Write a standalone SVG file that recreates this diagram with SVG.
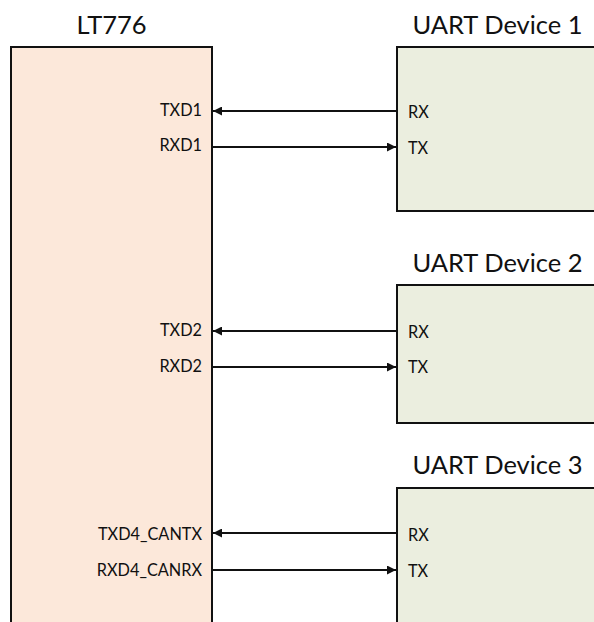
<svg xmlns="http://www.w3.org/2000/svg" width="594" height="622" viewBox="0 0 594 622">
<style>
.title{font-family:Lato,"Open Sans",sans-serif;font-size:25.5px;fill:#111;text-anchor:middle}
.pin{font-family:Lato,"Open Sans",sans-serif;font-size:16.3px;fill:#111}
.r{text-anchor:end}
.chip{fill:#fce8da;stroke:#111;stroke-width:2}
.dev{fill:#ebeedf;stroke:#111;stroke-width:2}
.wire{stroke:#111;stroke-width:2;fill:none}
</style>
<defs>
<marker id="ah" viewBox="0 0 10 10" refX="10" refY="5" markerWidth="9" markerHeight="9" markerUnits="userSpaceOnUse" orient="auto">
<path d="M0,0 L10,5 L0,10 z" fill="#111"/>
</marker>
</defs>
<rect width="594" height="622" fill="#fff"/>
<g id="lt776">
<text class="title" x="111.5" y="34">LT776</text>
<rect class="chip" x="11" y="47" width="201" height="590"/>
<text class="pin r" x="202" y="116">TXD1</text>
<text class="pin r" x="202" y="151">RXD1</text>
<text class="pin r" x="202" y="336">TXD2</text>
<text class="pin r" x="202" y="372">RXD2</text>
<text class="pin r" x="202" y="540">TXD4_CANTX</text>
<text class="pin r" x="202" y="576">RXD4_CANRX</text>
</g>
<g id="dev1">
<text class="title" x="497.5" y="34">UART Device 1</text>
<rect class="dev" x="397" y="47" width="210" height="164"/>
<text class="pin" x="408" y="118">RX</text>
<text class="pin" x="408" y="154">TX</text>
</g>
<g id="dev2">
<text class="title" x="497.5" y="272">UART Device 2</text>
<rect class="dev" x="397" y="285" width="210" height="138"/>
<text class="pin" x="408" y="338">RX</text>
<text class="pin" x="408" y="373">TX</text>
</g>
<g id="dev3">
<text class="title" x="497.5" y="474">UART Device 3</text>
<rect class="dev" x="397" y="488" width="210" height="150"/>
<text class="pin" x="408" y="541">RX</text>
<text class="pin" x="408" y="577">TX</text>
</g>
<g id="connectors">
<line class="wire" x1="396" y1="111" x2="213" y2="111" marker-end="url(#ah)"/>
<line class="wire" x1="213" y1="147" x2="396" y2="147" marker-end="url(#ah)"/>
<line class="wire" x1="396" y1="331" x2="213" y2="331" marker-end="url(#ah)"/>
<line class="wire" x1="213" y1="367" x2="396" y2="367" marker-end="url(#ah)"/>
<line class="wire" x1="396" y1="533" x2="213" y2="533" marker-end="url(#ah)"/>
<line class="wire" x1="213" y1="570" x2="396" y2="570" marker-end="url(#ah)"/>
</g>
</svg>
